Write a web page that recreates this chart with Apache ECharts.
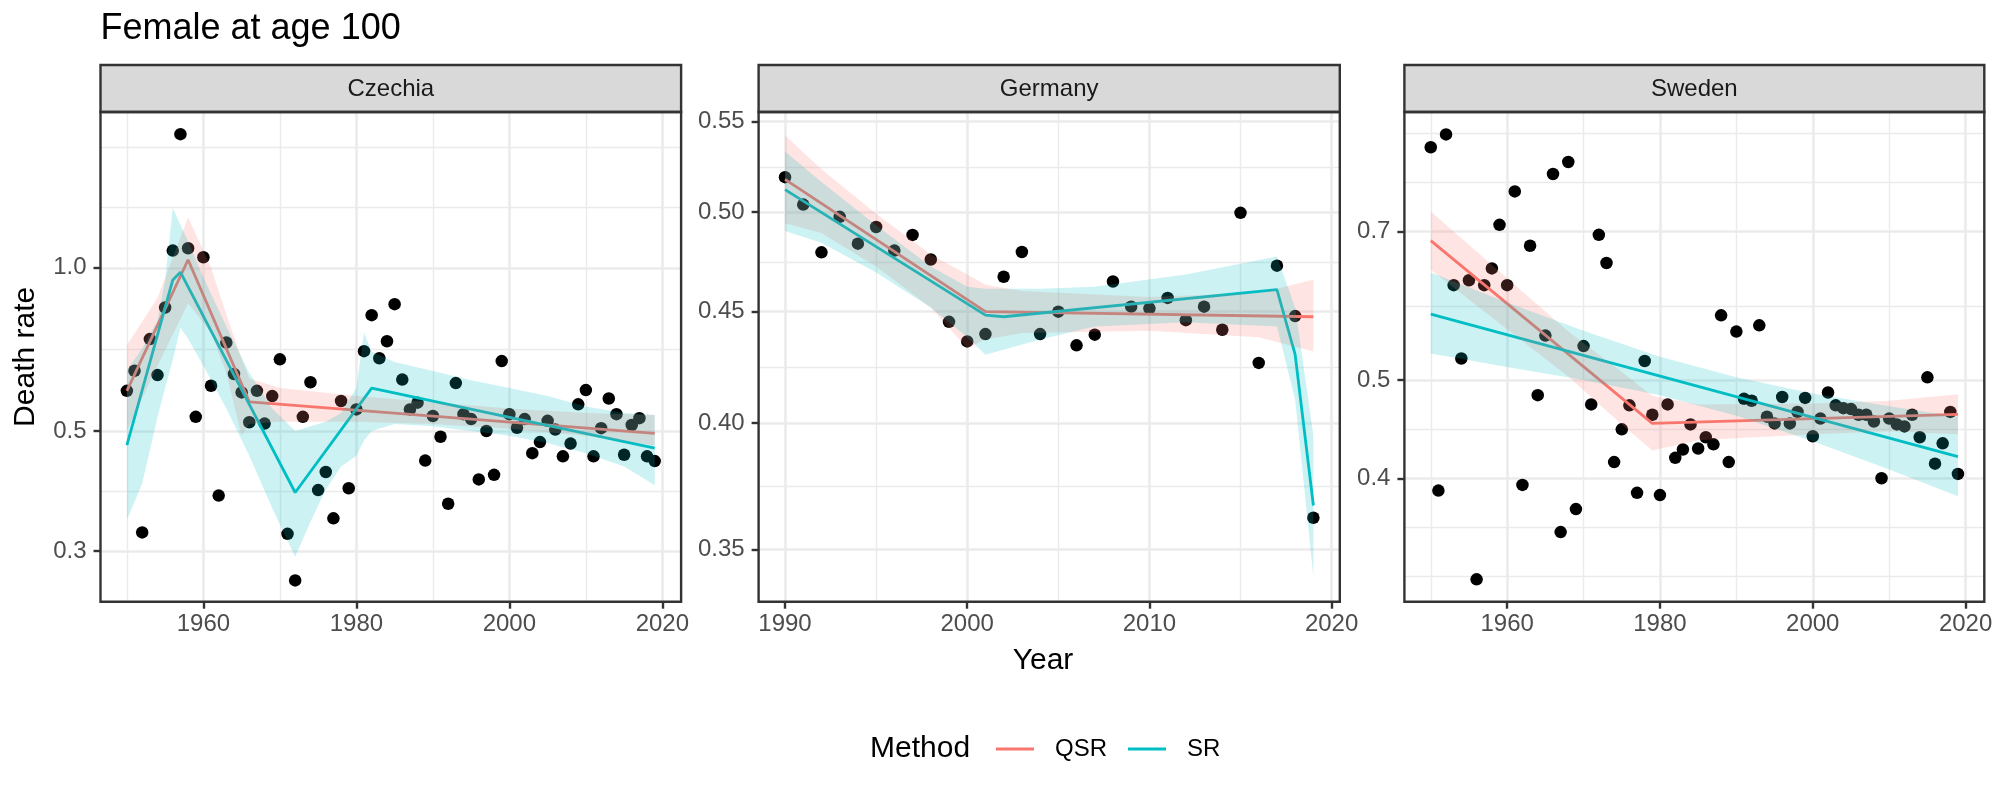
<!DOCTYPE html>
<html>
<head>
<meta charset="utf-8">
<script src="https://cdn.jsdelivr.net/npm/echarts@6.0.0/dist/echarts.min.js"></script>
<style>html,body{margin:0;padding:0;background:#fff;}#chart{width:2000px;height:800px;}</style>
</head>
<body>
<div id="chart"></div>
<script>
// ---------------- DATA ----------------
const panelNames = ['Czechia', 'Germany', 'Sweden'];
const legendNames = ['QSR', 'SR'];

// Czechia
const czYears = [1950,1951,1952,1953,1954,1955,1956,1957,1958,1959,1960,1961,1962,1963,1964,1965,1966,1967,1968,1969,
  1970,1971,1972,1973,1974,1975,1976,1977,1978,1979,1980,1981,1982,1983,1984,1985,1986,1987,1988,1989,
  1990,1991,1992,1993,1994,1995,1996,1997,1998,1999,2000,2001,2002,2003,2004,2005,2006,2007,2008,2009,
  2010,2011,2012,2013,2014,2015,2016,2017,2018,2019];
const czRate = [0.593,0.646,0.325,0.739,0.634,0.845,1.076,1.765,1.087,0.531,1.046,0.606,0.380,0.728,0.637,0.589,0.519,0.593,0.516,0.580,
  0.678,0.323,0.265,0.531,0.615,0.389,0.420,0.345,0.568,0.392,0.548,0.702,0.818,0.681,0.732,0.857,0.622,0.548,0.564,0.441,
  0.533,0.488,0.367,0.613,0.537,0.526,0.407,0.500,0.415,0.673,0.537,0.507,0.526,0.455,0.477,0.522,0.503,0.449,0.474,0.560,
  0.595,0.449,0.506,0.574,0.537,0.452,0.513,0.528,0.449,0.440];
const czQsrYears = [1950,1958,1966,2019];
const czQsrFit = [0.593,1.035,0.566,0.495];
const czSrYears = [1950,1956,1957,1972,1982,2019];
const czSrFit = [0.471,0.950,0.982,0.385,0.600,0.465];
const czQsrBandYears = [1950,1954,1958,1961,1963,1965,1966,1970,1975,1980,1990,2000,2010,2019];
const czQsrLow  = [0.50,0.66,0.86,0.76,0.64,0.49,0.515,0.52,0.52,0.52,0.515,0.505,0.49,0.47];
const czQsrHigh = [0.72,0.88,1.24,1.00,0.82,0.68,0.625,0.60,0.59,0.58,0.565,0.55,0.54,0.535];
const czSrBandYears = [1950,1952,1954,1955,1956,1957,1958,1960,1963,1966,1969,1972,1974,1976,1978,1980,1981,1982,1985,1990,1995,2000,2005,2010,2015,2019];
const czSrLow  = [0.343,0.40,0.53,0.60,0.676,0.775,0.74,0.66,0.55,0.45,0.36,0.293,0.34,0.39,0.43,0.45,0.48,0.50,0.515,0.51,0.50,0.49,0.475,0.455,0.43,0.397];
const czSrHigh = [0.647,0.71,0.80,0.95,1.29,1.20,1.12,0.96,0.78,0.64,0.55,0.50,0.51,0.52,0.54,0.60,0.76,0.70,0.67,0.645,0.62,0.60,0.58,0.555,0.54,0.535];

// Germany
const deYears = [1990,1991,1992,1993,1994,1995,1996,1997,1998,1999,2000,2001,2002,2003,2004,2005,2006,2007,2008,2009,
  2010,2011,2012,2013,2014,2015,2016,2017,2018,2019];
const deRate = [0.5187,0.5039,0.4791,0.4974,0.4835,0.4921,0.4800,0.4880,0.4755,0.4452,0.4361,0.4395,0.4669,0.4793,0.4395,0.4500,0.4343,0.4392,0.4646,0.4524,
  0.4516,0.4566,0.4460,0.4524,0.4415,0.4995,0.4263,0.4724,0.4479,0.3620];
const deQsrYears = [1990,2001,2019];
const deQsrFit = [0.5175,0.4500,0.4476];
const deSrYears = [1990,2001,2002,2017,2018,2019];
const deSrFit = [0.5119,0.4484,0.4476,0.4606,0.4300,0.3667];
const deQsrBandYears = [1990,1992,1995,1998,2000,2001,2003,2010,2016,2019];
const deQsrLow  = [0.494,0.489,0.472,0.452,0.433,0.437,0.440,0.441,0.438,0.4315];
const deQsrHigh = [0.542,0.523,0.499,0.478,0.468,0.463,0.460,0.457,0.459,0.4654];
const deSrBandYears = [1990,1992,1995,1998,2000,2001,2004,2007,2012,2017,2018,2019];
const deSrLow  = [0.490,0.484,0.469,0.452,0.438,0.430,0.437,0.443,0.445,0.443,0.410,0.340];
const deSrHigh = [0.533,0.516,0.493,0.472,0.462,0.461,0.461,0.462,0.468,0.477,0.452,0.395];

// Sweden
const seYears = czYears.slice();
const seRate = [0.848,0.389,0.873,0.620,0.525,0.627,0.318,0.620,0.644,0.711,0.620,0.767,0.394,0.678,0.483,0.553,0.798,0.354,0.820,0.373,
  0.540,0.473,0.695,0.652,0.415,0.447,0.472,0.387,0.522,0.462,0.385,0.473,0.419,0.427,0.452,0.428,0.439,0.432,0.579,0.415,
  0.558,0.479,0.477,0.566,0.460,0.453,0.481,0.453,0.465,0.480,0.440,0.458,0.486,0.472,0.469,0.468,0.462,0.462,0.455,0.400,
  0.458,0.452,0.450,0.462,0.439,0.503,0.4135,0.433,0.465,0.404];
const seQsrYears = [1950,1979,2019];
const seQsrFit = [0.686,0.453,0.4624];
const seSrYears = [1950,2019];
const seSrFit = [0.5807,0.4202];
const seQsrBandYears = [1950,1960,1968,1975,1979,1985,2000,2010,2019];
const seQsrLow  = [0.642,0.561,0.504,0.452,0.426,0.436,0.442,0.445,0.442];
const seQsrHigh = [0.733,0.630,0.558,0.509,0.482,0.473,0.474,0.477,0.484];
const seSrBandYears = [1950,1960,1970,1980,1990,2000,2010,2019];
const seSrLow  = [0.531,0.515,0.500,0.483,0.461,0.435,0.408,0.384];
const seSrHigh = [0.638,0.596,0.559,0.527,0.503,0.485,0.471,0.460];

// Tick labels
const czYTicks = [0.3, 0.5, 1.0];   const czYLabels = ['0.3', '0.5', '1.0'];
const deYTicks = [0.35, 0.40, 0.45, 0.50, 0.55]; const deYLabels = ['0.35', '0.40', '0.45', '0.50', '0.55'];
const seYTicks = [0.4, 0.5, 0.7];   const seYLabels = ['0.4', '0.5', '0.7'];
const czXTicks = [1960, 1980, 2000, 2020];
const deXTicks = [1990, 2000, 2010, 2020];
const seXTicks = [1960, 1980, 2000, 2020];

// ---------------- LAYOUT / STYLE ----------------
const FONT = '"Liberation Sans", Arial, Helvetica, sans-serif';
const RED = '#F8766D', CYAN = '#00BFC4';
const TOP = 112, HEIGHT = 489.7, STRIP_TOP = 65;
const layout = [
  {left: 100.5, width: 580.6, xMin: 1946.55, xMax: 2022.45, yMin: -0.6160, yMax: 0.2876},
  {left: 758.6, width: 581.2, xMin: 1988.55, xMax: 2020.45, yMin: -0.4798, yMax: -0.2552},
  {left: 1404.4, width: 579.9, xMin: 1946.55, xMax: 2022.45, yMin: -0.5196, yMax: -0.0369}
];

const L = Math.log10;
const panels = [
  {years: czYears, rate: czRate, qY: czQsrYears, qF: czQsrFit, sY: czSrYears, sF: czSrFit,
   qbY: czQsrBandYears, qbL: czQsrLow, qbH: czQsrHigh, sbY: czSrBandYears, sbL: czSrLow, sbH: czSrHigh,
   yTicks: czYTicks, yLabels: czYLabels, xTicks: czXTicks},
  {years: deYears, rate: deRate, qY: deQsrYears, qF: deQsrFit, sY: deSrYears, sF: deSrFit,
   qbY: deQsrBandYears, qbL: deQsrLow, qbH: deQsrHigh, sbY: deSrBandYears, sbL: deSrLow, sbH: deSrHigh,
   yTicks: deYTicks, yLabels: deYLabels, xTicks: deXTicks},
  {years: seYears, rate: seRate, qY: seQsrYears, qF: seQsrFit, sY: seSrYears, sF: seSrFit,
   qbY: seQsrBandYears, qbL: seQsrLow, qbH: seQsrHigh, sbY: seSrBandYears, sbL: seSrLow, sbH: seSrHigh,
   yTicks: seYTicks, yLabels: seYLabels, xTicks: seXTicks}
];

// ggplot-style minor breaks (midpoints in transformed space + extension)
function minorBreaks(majors, lo, hi) {
  let b = majors.filter(v => v >= lo && v <= hi);
  const bd = b[1] - b[0];
  if (lo < b[0]) b = [b[0] - bd].concat(b);
  if (hi > b[b.length - 1]) b = b.concat([b[b.length - 1] + bd]);
  const out = [];
  for (let i = 0; i < b.length - 1; i++) { out.push(b[i]); out.push((b[i] + b[i + 1]) / 2); }
  out.push(b[b.length - 1]);
  return out.filter(v => v >= lo && v <= hi && !majors.some(m => Math.abs(m - v) < 1e-9));
}

const grids = [], xAxes = [], yAxes = [], series = [], graphics = [];
const tickStyle = {color: '#333333', width: 2.4};
const gridMajor = {color: '#EBEBEB', width: 2.6};
const gridMinor = {color: '#EBEBEB', width: 1.4};

function band(i, name, ys, lo, hi, color) {
  const data = ys.map((x, k) => [x, L(lo[k]), L(hi[k])]);
  return {
    type: 'custom', name: name, xAxisIndex: i, yAxisIndex: i, z: 3, silent: true,
    encode: {x: 0, y: [1, 2]},
    data: data,
    renderItem: function (params, api) {
      if (params.dataIndex !== 0) return null;
      const lower = data.map(d => api.coord([d[0], d[1]]));
      const upper = data.map(d => api.coord([d[0], d[2]])).reverse();
      return {type: 'polygon', shape: {points: lower.concat(upper)}, style: {fill: color, opacity: 0.2}};
    }
  };
}

panels.forEach((p, i) => {
  const g = layout[i];
  grids.push({left: g.left, top: TOP, width: g.width, height: HEIGHT, containLabel: false, outerBoundsMode: 'none', show: false});
  const yMajor = p.yTicks.map(L);
  xAxes.push({
    type: 'value', gridIndex: i, min: g.xMin, max: g.xMax, position: 'bottom',
    axisLine: {show: false, onZero: false},
    axisTick: {show: true, length: 7, lineStyle: tickStyle, customValues: p.xTicks},
    axisLabel: {show: true, customValues: p.xTicks, color: '#4D4D4D', fontSize: 24, fontFamily: FONT, margin: 11,
      formatter: v => String(Math.round(v))},
    splitLine: {show: true, lineStyle: gridMajor}, minorTick: {show: false}, minorSplitLine: {show: false}
  });
  yAxes.push({
    type: 'value', gridIndex: i, min: g.yMin, max: g.yMax, position: 'left',
    axisLine: {show: false, onZero: false},
    axisTick: {show: true, length: 7, lineStyle: tickStyle, customValues: yMajor},
    axisLabel: {show: true, customValues: yMajor, color: '#4D4D4D', fontSize: 24, fontFamily: FONT, margin: 14,
      formatter: function (v) {
        let best = 0;
        yMajor.forEach((m, k) => { if (Math.abs(m - v) < Math.abs(yMajor[best] - v)) best = k; });
        return p.yLabels[best];
      }},
    splitLine: {show: true, lineStyle: gridMajor}, minorTick: {show: false}, minorSplitLine: {show: false}
  });
  series.push({type: 'scatter', name: 'points', xAxisIndex: i, yAxisIndex: i, z: 1, silent: true,
    symbol: 'circle', symbolSize: 12.5, itemStyle: {color: '#000000', opacity: 1},
    data: p.years.map((x, k) => [x, L(p.rate[k])])});
  series.push({type: 'line', name: 'QSR', xAxisIndex: i, yAxisIndex: i, z: 2, silent: true,
    symbol: 'none', showSymbol: false, color: RED, lineStyle: {color: RED, width: 2.8}, itemStyle: {color: RED},
    data: p.qY.map((x, k) => [x, L(p.qF[k])])});
  series.push({type: 'line', name: 'SR', xAxisIndex: i, yAxisIndex: i, z: 2, silent: true,
    symbol: 'none', showSymbol: false, color: CYAN, lineStyle: {color: CYAN, width: 2.8}, itemStyle: {color: CYAN},
    data: p.sY.map((x, k) => [x, L(p.sF[k])])});
  series.push(band(i, 'QSR band', p.qbY, p.qbL, p.qbH, RED));
  series.push(band(i, 'SR band', p.sbY, p.sbL, p.sbH, CYAN));

  // strip
  graphics.push({type: 'rect', z: 100, silent: true,
    shape: {x: g.left, y: STRIP_TOP, width: g.width, height: TOP - STRIP_TOP},
    style: {fill: '#D9D9D9', stroke: '#333333', lineWidth: 2.4}});
  graphics.push({type: 'text', z: 101, silent: true, x: g.left + g.width / 2, y: 89,
    style: {text: panelNames[i], fontSize: 24, fontFamily: FONT, fill: '#1A1A1A', align: 'center', verticalAlign: 'middle'}});
  // panel border
  graphics.push({type: 'rect', z: 100, silent: true,
    shape: {x: g.left, y: TOP, width: g.width, height: HEIGHT},
    style: {fill: 'none', stroke: '#333333', lineWidth: 2.4}});
});

// minor grid axes
panels.forEach((p, i) => {
  const g = layout[i];
  const xm = minorBreaks(p.xTicks, g.xMin, g.xMax);
  const ym = minorBreaks(p.yTicks.map(L), g.yMin, g.yMax);
  xAxes.push({type: 'value', gridIndex: i, min: g.xMin, max: g.xMax, position: 'top',
    axisLine: {show: false, onZero: false}, axisTick: {show: false, customValues: xm}, axisLabel: {show: false, customValues: xm},
    splitLine: {show: true, lineStyle: gridMinor}});
  yAxes.push({type: 'value', gridIndex: i, min: g.yMin, max: g.yMax, position: 'right',
    axisLine: {show: false, onZero: false}, axisTick: {show: false, customValues: ym}, axisLabel: {show: false, customValues: ym},
    splitLine: {show: true, lineStyle: gridMinor}});
});

// titles
graphics.push({type: 'text', silent: true, x: 100.5, y: 29.5,
  style: {text: 'Female at age 100', fontSize: 36, fontFamily: FONT, fill: '#000', align: 'left', verticalAlign: 'middle'}});
graphics.push({type: 'text', silent: true, x: 1043, y: 661,
  style: {text: 'Year', fontSize: 30, fontFamily: FONT, fill: '#000', align: 'center', verticalAlign: 'middle'}});
graphics.push({type: 'text', silent: true, x: 26, y: TOP + HEIGHT / 2, rotation: Math.PI / 2,
  style: {text: 'Death rate', fontSize: 30, fontFamily: FONT, fill: '#000', align: 'center', verticalAlign: 'middle'}});
graphics.push({type: 'text', silent: true, x: 870, y: 748.5,
  style: {text: 'Method', fontSize: 30, fontFamily: FONT, fill: '#000', align: 'left', verticalAlign: 'middle'}});

const chart = echarts.init(document.getElementById('chart'), null, {renderer: 'canvas', width: 2000, height: 800});
chart.setOption({
  animation: false,
  backgroundColor: '#ffffff',
  grid: grids,
  xAxis: xAxes,
  yAxis: yAxes,
  legend: {
    data: legendNames, left: 991, top: 732, orient: 'horizontal', selectedMode: false,
    icon: 'rect', itemWidth: 38, itemHeight: 3, itemGap: 21,
    textStyle: {fontSize: 24, fontFamily: FONT, color: '#000', padding: [0, 0, 0, 16]}
  },
  graphic: graphics,
  series: series
});
</script>
</body>
</html>
